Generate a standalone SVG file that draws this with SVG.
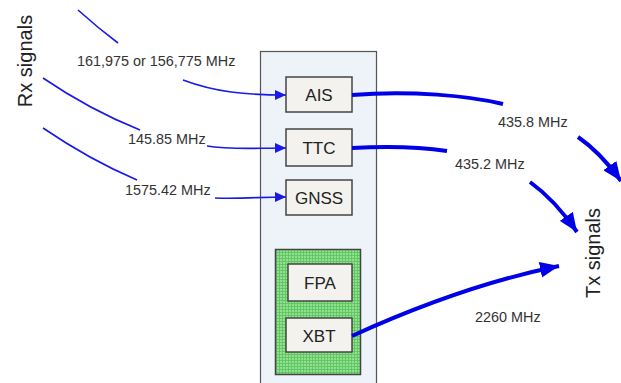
<svg xmlns="http://www.w3.org/2000/svg" width="621" height="383" viewBox="0 0 621 383">
<defs>
<style>
.lbl{font-family:"Liberation Sans",Arial,sans-serif;font-size:14.4px;fill:#333}
.big{font-family:"Liberation Sans",Arial,sans-serif;font-size:20px;fill:#222}
.boxt{font-family:"Liberation Sans",Arial,sans-serif;font-size:17px;fill:#222;text-anchor:middle}
.box{fill:#f3f2ee;stroke:#444;stroke-width:1.5}
.thin{fill:none;stroke:#1a1ae6;stroke-width:1.6}
.thick{fill:none;stroke:#0000e8;stroke-width:4}
</style>
<marker id="ah" markerUnits="userSpaceOnUse" markerWidth="12" markerHeight="10" refX="11" refY="5" orient="auto">
<path d="M0,0 L11,5 L0,10 Z" fill="#1a1ae6"/>
</marker>
<marker id="ahb" markerUnits="userSpaceOnUse" markerWidth="20" markerHeight="16" refX="19" refY="8" orient="auto">
<path d="M0,0 L19,8 L0,16 Z" fill="#0000e8"/>
</marker>
<pattern id="grid" width="3" height="3" patternUnits="userSpaceOnUse">
<rect width="3" height="3" fill="#8fe08f"/>
<path d="M0,0.5 H3 M0.5,0 V3" stroke="#5cc05c" stroke-width="0.8"/>
</pattern>
</defs>
<rect width="621" height="383" fill="#ffffff"/>
<g id="panel">
<rect x="260.5" y="51.5" width="116" height="340" fill="#eef2f9" stroke="#555" stroke-width="1.2"/>
</g>
<g id="green">
<rect x="275.5" y="249.5" width="85" height="125" fill="url(#grid)" stroke="#444" stroke-width="1.5"/>
</g>
<g id="AIS"><rect class="box" x="286" y="77" width="66" height="35"/><text class="boxt" x="319" y="100.5">AIS</text></g>
<g id="TTC"><rect class="box" x="286" y="129" width="66" height="37"/><text class="boxt" x="319" y="153.5">TTC</text></g>
<g id="GNSS"><rect class="box" x="286" y="180" width="66" height="35"/><text class="boxt" x="319" y="203.5">GNSS</text></g>
<g id="FPA"><rect class="box" x="288" y="264" width="64" height="37"/><text class="boxt" x="320" y="288.5">FPA</text></g>
<g id="XBT"><rect class="box" x="286" y="318" width="66" height="34"/><text class="boxt" x="319" y="341.5">XBT</text></g>
<g id="rx"><text class="big" transform="translate(32,61) rotate(-90)" text-anchor="middle">Rx signals</text></g>
<g id="tx"><text class="big" transform="translate(600,253) rotate(-90)" text-anchor="middle">Tx signals</text></g>
<g id="connectors">
<path class="thin" d="M78,10 Q98,28 118,43"/>
<path class="thin" d="M183,80 C215,92 245,95 286,95" marker-end="url(#ah)"/>
<path class="thin" d="M43,78 Q90,110 140,130"/>
<path class="thin" d="M207,146 C230,150 255,148 286,148" marker-end="url(#ah)"/>
<path class="thin" d="M43,128 Q90,160 137,180"/>
<path class="thin" d="M215,198 C240,199 260,197 286,197" marker-end="url(#ah)"/>
<path class="thick" d="M352,95 C410,90 470,96 503,104"/>
<path class="thick" d="M578,137 Q600,152 621,181" marker-end="url(#ahb)"/>
<path class="thick" d="M352,148 C390,146 420,147 447,151"/>
<path class="thick" d="M530,182 Q555,200 577,232" marker-end="url(#ahb)"/>
<path class="thick" d="M352,336 C420,305 490,280 559,266" marker-end="url(#ahb)"/>
</g>
<g id="labels">
<text class="lbl" x="77" y="66">161,975 or 156,775 MHz</text>
<text class="lbl" x="128" y="144">145.85 MHz</text>
<text class="lbl" x="125" y="195">1575.42 MHz</text>
<text class="lbl" x="498" y="127">435.8 MHz</text>
<text class="lbl" x="455" y="169">435.2 MHz</text>
<text class="lbl" x="475" y="322">2260 MHz</text>
</g>
</svg>
